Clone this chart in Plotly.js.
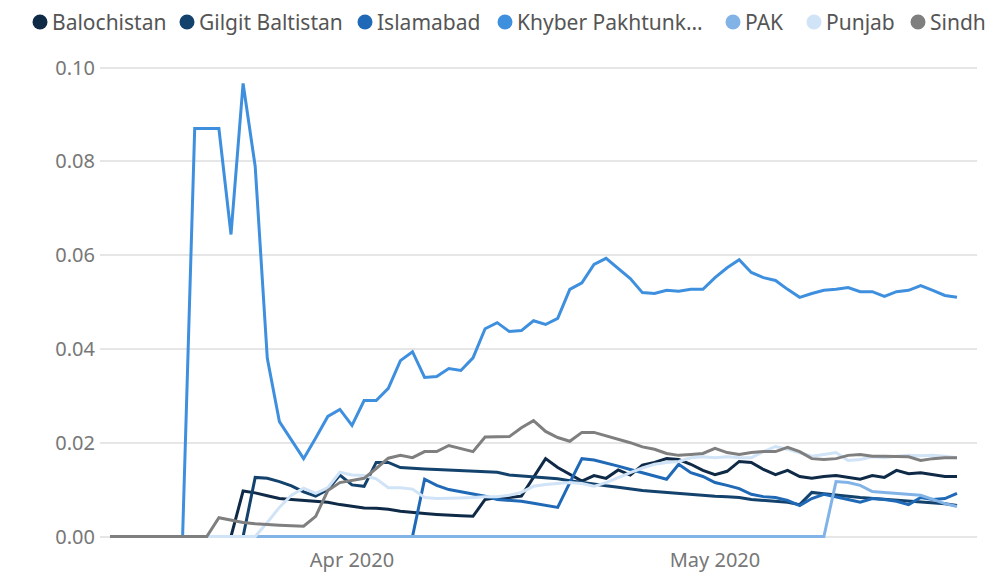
<!DOCTYPE html>
<html>
<head>
<meta charset="utf-8">
<script src="https://cdn.plot.ly/plotly-3.0.1.min.js"></script>
<style>
  html, body { margin: 0; padding: 0; background: #ffffff; overflow: hidden; }
  #chart { width: 987px; height: 579px; }
</style>
</head>
<body>
<div id="chart"></div>
<script>
// ---- Data ----
const startDate = "2020-03-12";   // first day of the series
const nDays = 71;                 // Mar 12 .. May 21, 2020

const seriesNames = ["Balochistan", "Gilgit Baltistan", "Islamabad", "Khyber Pakhtunkhwa", "PAK", "Punjab", "Sindh"];
const legendLabels = ["Balochistan", "Gilgit Baltistan", "Islamabad", "Khyber Pakhtunk\u2026", "PAK", "Punjab", "Sindh"];

const balochistan = [0,0,0,0,0,0,0,0,0,0,0,
  0.0097,0.0093,0.0087,0.0081,0.0079,0.0077,0.0075,0.0073,0.0068,0.0064,
  0.0061,0.006,0.0058,0.0054,0.0051,0.0049,0.0047,0.0045,0.0044,0.0043,
  0.0079,0.0083,0.0083,0.0086,0.0125,0.0166,0.0147,0.0132,0.0118,0.013,
  0.0124,0.0142,0.0131,0.0152,0.0158,0.0166,0.0164,0.0154,0.0141,0.0132,
  0.0139,0.016,0.0158,0.0143,0.0132,0.0141,0.0128,0.0124,0.0128,0.013,
  0.0126,0.0122,0.013,0.0126,0.0141,0.0134,0.0136,0.0132,0.0128,0.0128];

const gilgit = [0,0,0,0,0,0,0,0,0,0,0,0,
  0.0126,0.0124,0.0117,0.0108,0.0095,0.0086,0.0100,0.0131,0.0110,0.0107,
  0.0158,0.0158,0.0147,0.0145,0.0144,0.0143,0.0142,0.0141,0.0140,0.0139,
  0.0137,0.0131,0.0129,0.0128,0.0125,0.0123,0.0119,0.0115,0.0112,0.0108,
  0.0105,0.0101,0.0098,0.0096,0.0094,0.0092,0.0089,0.0087,0.0086,0.0085,
  0.0083,0.0079,0.0077,0.0075,0.0073,0.0068,0.0094,0.0091,0.0089,0.0086,
  0.0083,0.0081,0.0079,0.0077,0.0076,0.0074,0.0072,0.0070,0.0066];

const islamabad = [0,0,0,0,0,0,0,0,0,0,0,0,0,0,0,0,0,0,0,0,0,0,0,0,0,0,
  0.0122,0.0109,0.0100,0.0095,0.0091,0.0086,0.0079,0.0077,0.0075,0.0071,
  0.0067,0.0062,0.0115,0.0166,0.0163,0.0157,0.0150,0.0143,0.0136,0.0128,
  0.0122,0.0154,0.0136,0.0128,0.0115,0.0109,0.0102,0.0090,0.0085,0.0083,
  0.0077,0.0066,0.0081,0.0090,0.0085,0.0079,0.0073,0.0081,0.0079,0.0075,
  0.0068,0.0083,0.0079,0.0081,0.0092];

const khyber = [0,0,0,0,0,0,0,
  0.087,0.087,0.087,0.0644,0.0966,0.0789,0.038,0.0245,0.0205,0.0166,
  0.021,0.0256,0.0271,0.0237,0.029,0.029,0.0316,0.0375,0.0394,0.0339,
  0.0341,0.0358,0.0354,0.0381,0.0443,0.0456,0.0437,0.0439,0.046,0.0452,
  0.0465,0.0527,0.0541,0.058,0.0593,0.0571,0.055,0.052,0.0518,0.0525,
  0.0523,0.0527,0.0527,0.0552,0.0573,0.059,0.0563,0.0552,0.0546,0.0527,
  0.051,0.0518,0.0525,0.0527,0.0531,0.0522,0.0522,0.0512,0.0522,0.0525,
  0.0535,0.0525,0.0514,0.051];

const pak = [0,0,0,0,0,0,0,0,0,0,0,0,0,0,0,0,0,0,0,0,
  0,0,0,0,0,0,0,0,0,0,0,0,0,0,0,0,0,0,0,0,
  0,0,0,0,0,0,0,0,0,0,0,0,0,0,0,0,0,0,0,0,
  0.0117,0.0115,0.0109,0.0096,0.0094,0.0092,0.0090,0.0088,0.0079,0.0070,0.0064];

const punjab = [0,0,0,0,0,0,0,0,0,0,0,0,0,
  0.003,0.0062,0.0088,0.0103,0.0092,0.0104,0.0137,0.0131,0.013,0.0123,
  0.0104,0.0104,0.0101,0.0083,0.0081,0.0081,0.0082,0.0083,0.0085,0.0085,
  0.0088,0.0094,0.0107,0.0111,0.0113,0.0115,0.0113,0.0107,0.0115,0.0126,
  0.0136,0.0146,0.0154,0.0158,0.016,0.0168,0.017,0.0168,0.017,0.0168,
  0.0168,0.0181,0.0192,0.0186,0.0178,0.0171,0.0175,0.0179,0.0162,0.0164,
  0.017,0.0168,0.0171,0.0173,0.0172,0.0173,0.0171,0.0168];

const sindh = [0,0,0,0,0,0,0,0,0,
  0.0040,0.0035,0.0030,0.0027,0.0025,0.0024,0.0023,0.0022,0.0043,0.0098,
  0.0115,0.0120,0.0124,0.0145,0.0167,0.0173,0.0168,0.0181,0.0181,0.0194,
  0.0187,0.0181,0.0212,0.0213,0.0213,0.0232,0.0247,0.0224,0.0211,0.0203,
  0.0222,0.0222,0.0215,0.0207,0.0200,0.0191,0.0186,0.0177,0.0173,0.0175,
  0.0177,0.0188,0.0179,0.0175,0.0179,0.0181,0.0181,0.0190,0.0181,0.0166,
  0.0164,0.0166,0.0173,0.0175,0.0171,0.0171,0.0171,0.0170,0.0162,0.0166,
  0.0168,0.0168];

const yTickVals = [0, 0.02, 0.04, 0.06, 0.08, 0.10];

// ---- Styling ----
const colors = ["#0f2a47", "#13426d", "#1f69b6", "#3f8fdf", "#82b3e7", "#d1e3f6", "#7f7f7f"];
const seriesValues = [balochistan, gilgit, islamabad, khyber, pak, punjab, sindh];

// dates
const dates = [];
(function () {
  const d0 = new Date(startDate + "T00:00:00Z");
  for (let i = 0; i < nDays; i++) {
    const d = new Date(d0.getTime() + i * 86400000);
    dates.push(d.toISOString().slice(0, 10));
  }
})();

const W = 987, H = 579;
const M = { l: 100, r: 10, t: 60, b: 35 };
const plotW = W - M.l - M.r, plotH = H - M.t - M.b;

const traces = seriesNames.map((name, k) => ({
  type: "scatter",
  mode: "lines",
  name: name,
  x: dates,
  y: seriesValues[k],
  line: { color: colors[k], width: 3 },
  showlegend: false,
  hoverinfo: "skip"
}));

// custom legend (dot + label), placed like the reference
const legendTextX = [52, 199, 377, 517, 745, 826, 930];
const legendY = 22;
const toPaperX = px => (px - M.l) / plotW;
const toPaperY = py => 1 + (M.t - py) / plotH;

const annotations = legendLabels.map((lab, k) => ({
  xref: "paper", yref: "paper",
  x: toPaperX(legendTextX[k] - 2), y: toPaperY(legendY),
  xanchor: "left", yanchor: "middle",
  text: lab, showarrow: false,
  font: { family: "Noto Sans, Liberation Sans, sans-serif", size: 21, color: "#555555" }
}));
const shapes = legendLabels.map((lab, k) => ({
  type: "circle", xref: "paper", yref: "paper",
  xsizemode: "pixel", ysizemode: "pixel",
  xanchor: toPaperX(legendTextX[k] - 12), yanchor: toPaperY(legendY),
  x0: -7.5, x1: 7.5, y0: -7.5, y1: 7.5,
  fillcolor: colors[k], line: { width: 0 }
}));

const layout = {
  width: W, height: H,
  margin: M,
  paper_bgcolor: "#ffffff",
  plot_bgcolor: "#ffffff",
  showlegend: false,
  hovermode: false,
  font: { family: "Noto Sans, Liberation Sans, sans-serif", size: 20, color: "#777777" },
  xaxis: {
    type: "date",
    range: ["2020-03-11 04:10", "2020-05-22 15:40"],
    dtick: "M1", tick0: "2020-01-01",
    tickformat: "%b %Y",
    showgrid: false, zeroline: false, showline: false, ticks: "",
    tickfont: { size: 20, color: "#777777" },
    ticklabelstandoff: 2
  },
  yaxis: {
    range: [-0.0016, 0.1016],
    tickvals: yTickVals,
    tickformat: ".2f",
    showgrid: true, gridcolor: "#e6e6e6", gridwidth: 2,
    zeroline: false, showline: false, ticks: "",
    tickfont: { size: 20, color: "#777777" },
    ticklabelstandoff: 4
  },
  annotations: annotations,
  shapes: shapes
};

Plotly.newPlot("chart", traces, layout, { displayModeBar: false, staticPlot: true });
</script>
</body>
</html>
